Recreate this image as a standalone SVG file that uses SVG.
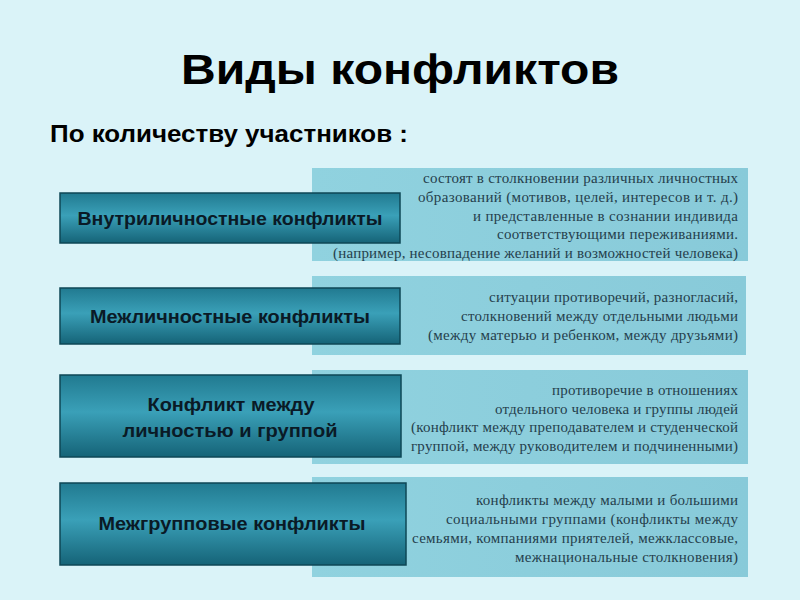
<svg xmlns="http://www.w3.org/2000/svg" width="800" height="600" viewBox="0 0 800 600">
<defs>
<linearGradient id="dark" x1="0" y1="0" x2="0" y2="1">
<stop offset="0" stop-color="#217a90"/>
<stop offset="0.45" stop-color="#3aa0b8"/>
<stop offset="1" stop-color="#156377"/>
</linearGradient>
<linearGradient id="light" x1="0" y1="0" x2="1" y2="0">
<stop offset="0" stop-color="#90d2df"/>
<stop offset="1" stop-color="#88cad9"/>
</linearGradient>
<style>
.title{font-family:"Liberation Sans",Arial,sans-serif;font-weight:bold;fill:#000}
.dbox{fill:url(#dark);stroke:#0e4756;stroke-width:1.5}
.lbox{fill:url(#light)}
.dtxt{font-family:"Liberation Sans",Arial,sans-serif;font-weight:bold;font-size:19px;fill:#0a1a26;text-anchor:middle}
.rtxt{font-family:"Liberation Serif","Times New Roman",serif;font-size:15px;fill:#25404c;text-anchor:end}
</style>
</defs>
<rect width="800" height="600" fill="#daf3f8"/>
<text class="title" x="400" y="84" font-size="42" text-anchor="middle" textLength="438" lengthAdjust="spacingAndGlyphs">Виды конфликтов</text>
<text class="title" x="50" y="142" font-size="24" textLength="358" lengthAdjust="spacingAndGlyphs">По количеству участников :</text>

<g id="desc1">
<rect class="lbox" x="312" y="168" width="436" height="93"/>
<text class="rtxt" x="738" y="183" textLength="315" lengthAdjust="spacing">состоят в столкновении различных личностных</text>
<text class="rtxt" x="738" y="202" textLength="320" lengthAdjust="spacing">образований  (мотивов, целей, интересов и т. д.)</text>
<text class="rtxt" x="738" y="221" textLength="265" lengthAdjust="spacing">и представленные в сознании индивида</text>
<text class="rtxt" x="738" y="239" textLength="241" lengthAdjust="spacing">соответствующими переживаниями.</text>
<text class="rtxt" x="738" y="258" textLength="405" lengthAdjust="spacing">(например, несовпадение желаний и возможностей человека)</text>
</g>
<g id="desc2">
<rect class="lbox" x="312" y="276" width="434" height="79"/>
<text class="rtxt" x="738" y="302" textLength="249" lengthAdjust="spacing">ситуации противоречий, разногласий,</text>
<text class="rtxt" x="738" y="321" textLength="277" lengthAdjust="spacing">столкновений между отдельными людьми</text>
<text class="rtxt" x="738" y="340" textLength="310" lengthAdjust="spacing">(между матерью и ребенком, между друзьями)</text>
</g>
<g id="desc3">
<rect class="lbox" x="312" y="370" width="436" height="94"/>
<text class="rtxt" x="738" y="395" textLength="186" lengthAdjust="spacing">противоречие в отношениях</text>
<text class="rtxt" x="738" y="414" textLength="243" lengthAdjust="spacing">отдельного человека и группы людей</text>
<text class="rtxt" x="738" y="432" textLength="327" lengthAdjust="spacing">(конфликт между преподавателем и студенческой</text>
<text class="rtxt" x="738" y="451" textLength="327" lengthAdjust="spacing">группой, между руководителем и подчиненными)</text>
</g>
<g id="desc4">
<rect class="lbox" x="312" y="477" width="436" height="100"/>
<text class="rtxt" x="738" y="505" textLength="262" lengthAdjust="spacing">конфликты между малыми и большими</text>
<text class="rtxt" x="738" y="524" textLength="292" lengthAdjust="spacing">социальными группами  (конфликты между</text>
<text class="rtxt" x="738" y="543" textLength="326" lengthAdjust="spacing">семьями, компаниями приятелей, межклассовые,</text>
<text class="rtxt" x="738" y="562" textLength="223" lengthAdjust="spacing">межнациональные столкновения)</text>
</g>

<g id="type1">
<rect class="dbox" x="60" y="193" width="340" height="50"/>
<text class="dtxt" x="230" y="225" textLength="305" lengthAdjust="spacingAndGlyphs">Внутриличностные конфликты</text>
</g>
<g id="type2">
<rect class="dbox" x="60" y="288" width="340" height="56"/>
<text class="dtxt" x="230" y="323" textLength="280" lengthAdjust="spacingAndGlyphs">Межличностные конфликты</text>
</g>
<g id="type3">
<rect class="dbox" x="60" y="375" width="341" height="82"/>
<text class="dtxt" x="231" y="411" textLength="167" lengthAdjust="spacingAndGlyphs">Конфликт между</text>
<text class="dtxt" x="230" y="437" textLength="215" lengthAdjust="spacingAndGlyphs">личностью и группой</text>
</g>
<g id="type4">
<rect class="dbox" x="60" y="483" width="346" height="82"/>
<text class="dtxt" x="232" y="530" textLength="267" lengthAdjust="spacingAndGlyphs">Межгрупповые конфликты</text>
</g>
<g id="connectors"/>
</svg>
